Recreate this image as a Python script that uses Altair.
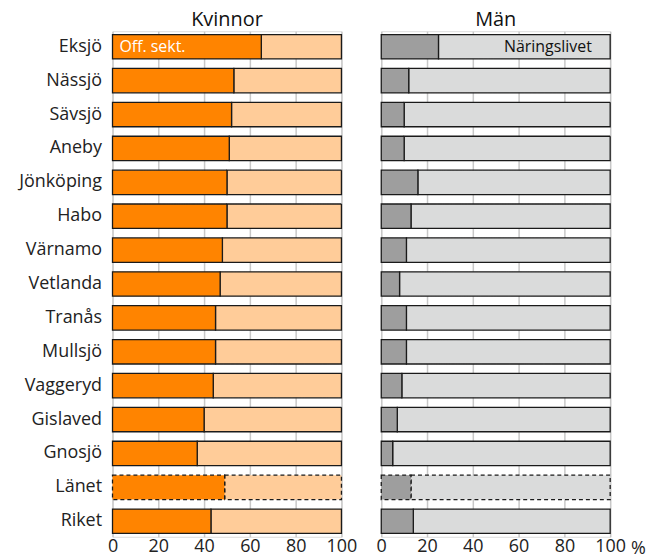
import altair as alt
import pandas as pd

cities = ["Eksjö", "Nässjö", "Sävsjö", "Aneby", "Jönköping", "Habo", "Värnamo",
          "Vetlanda", "Tranås", "Mullsjö", "Vaggeryd", "Gislaved", "Gnosjö",
          "Länet", "Riket"]
kvinnor_off = [65, 53, 52, 51, 50, 50, 48, 47, 45, 45, 44, 40, 37, 49, 43]
man_naring = [25, 12, 10, 10, 16, 13, 11, 8, 11, 11, 9, 7, 5, 13, 14]
x_ticks = [0, 20, 40, 60, 80, 100]

FONT = "Open Sans"
W = 230
H = 508


def panel(vals, title, dark, light, show_y, label_text, label_color, label_x, label_align, pct):
    df = pd.DataFrame({"city": cities, "v": vals,
                       "z": [0] * len(cities), "end": [100] * len(cities)})
    if show_y:
        yaxis = alt.Axis(ticks=False, domain=False, grid=False, labelFontSize=18,
                         labelPadding=11, labelColor="#222222", labelFont=FONT,
                         minExtent=104, maxExtent=104)
    else:
        yaxis = None
    y = alt.Y("city:N", sort=cities, title=None, axis=yaxis,
              scale=alt.Scale(paddingInner=0.28, paddingOuter=0.1))
    xaxis = alt.Axis(values=x_ticks, grid=True, gridColor="#c8c8c8", gridWidth=1.5,
                     ticks=False, domain=False, labelFontSize=18, labelFont=FONT,
                     labelColor="#222222", labelPadding=1, labelFlush=False, title=None)
    xscale = alt.Scale(domain=[0, 100], nice=False)
    dash = alt.condition(alt.datum.city == "Länet", alt.value([4, 3]), alt.value([1, 0]))
    base = alt.Chart(df)
    dark_bar = base.mark_bar(fill=dark, stroke="#1a1a1a", strokeWidth=1.3).encode(
        x=alt.X("z:Q", scale=xscale, axis=xaxis), x2="v:Q", y=y, strokeDash=dash)
    light_bar = base.mark_bar(fill=light, stroke="#1a1a1a", strokeWidth=1.3).encode(
        x=alt.X("v:Q", scale=xscale, axis=xaxis), x2="end:Q", y=y, strokeDash=dash)
    lab = alt.Chart(pd.DataFrame({"city": [cities[0]], "t": [label_text]})).mark_text(
        align=label_align, baseline="middle", fontSize=16, font=FONT, color=label_color
    ).encode(x=alt.datum(label_x), y=alt.Y("city:N", sort=cities), text="t:N")
    layers = [light_bar, dark_bar, lab]
    if pct:
        p = alt.Chart(pd.DataFrame({"t": ["%"]})).mark_text(
            align="left", baseline="top", fontSize=18, font=FONT, color="#222222",
            dx=21, dy=3).encode(x=alt.datum(100), y=alt.value(H), text="t:N")
        layers.append(p)
    return alt.layer(*layers).properties(
        width=W, height=H,
        title=alt.TitleParams(title, fontSize=20, font=FONT, fontWeight="normal",
                              color="#111111", offset=1))


left = panel(kvinnor_off, "Kvinnor", "#ff8400", "#ffcc99", True,
             "Off. sekt.", "white", 3, "left", False)
right = panel(man_naring, "Män", "#9e9e9e", "#dadbdb", False,
              "Näringslivet", "#111111", 92, "right", True)

chart = alt.hconcat(left, right, spacing=18).resolve_scale(y="independent").configure_view(
    stroke="#111111", strokeWidth=1.5
).configure(padding=0)

chart.save("out.html", embed_options={"renderer": "svg", "actions": False})
